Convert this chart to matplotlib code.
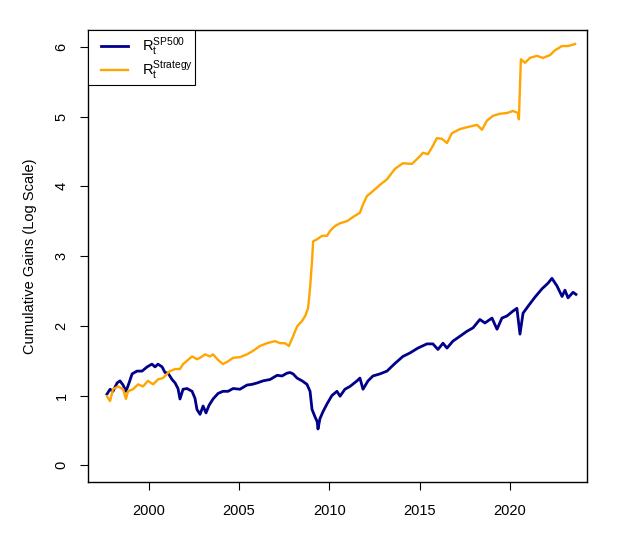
import numpy as np
import matplotlib
matplotlib.use("Agg")
import matplotlib.pyplot as plt
from matplotlib.patches import Rectangle

plt.rcParams['font.family'] = ['Liberation Sans', 'DejaVu Sans']
plt.rcParams['mathtext.fontset'] = 'custom'
plt.rcParams['mathtext.rm'] = 'Liberation Sans'
plt.rcParams['mathtext.it'] = 'Liberation Sans:italic'

# S&P 500 cumulative gains (log scale)
sp_years = [1997.69, 1997.86, 1998.02, 1998.25, 1998.41, 1998.58, 1998.74, 1998.91,
            1999.08, 1999.35, 1999.63, 1999.91, 2000.18, 2000.35, 2000.51, 2000.74,
            2000.90, 2001.07, 2001.29, 2001.46, 2001.62, 2001.73, 2001.90, 2002.12,
            2002.40, 2002.56, 2002.67, 2002.84, 2003.01, 2003.17, 2003.34, 2003.56,
            2003.84, 2004.11, 2004.39, 2004.67, 2005.05, 2005.44, 2005.72, 2006.00,
            2006.33, 2006.72, 2007.11, 2007.38, 2007.65, 2007.82, 2007.99, 2008.21,
            2008.49, 2008.76, 2008.93, 2009.04, 2009.21, 2009.32, 2009.37, 2009.48,
            2009.65, 2009.87, 2010.14, 2010.42, 2010.59, 2010.86, 2011.14, 2011.53,
            2011.69, 2011.86, 2012.14, 2012.41, 2012.80, 2013.19, 2013.63, 2014.07,
            2014.46, 2014.90, 2015.40, 2015.73, 2016.01, 2016.29, 2016.51, 2016.84,
            2017.23, 2017.61, 2017.95, 2018.33, 2018.61, 2019.00, 2019.28, 2019.55,
            2019.83, 2020.16, 2020.38, 2020.55, 2020.72, 2021.00, 2021.38, 2021.77,
            2022.10, 2022.32, 2022.60, 2022.88, 2023.04, 2023.21, 2023.49, 2023.65]
sp_gain = [1.02, 1.09, 1.06, 1.18, 1.21, 1.15, 1.06, 1.18,
           1.31, 1.35, 1.35, 1.41, 1.45, 1.41, 1.45, 1.41,
           1.33, 1.32, 1.23, 1.18, 1.10, 0.95, 1.09, 1.10,
           1.06, 0.96, 0.80, 0.73, 0.85, 0.75, 0.86, 0.95,
           1.03, 1.06, 1.06, 1.10, 1.09, 1.15, 1.16, 1.18,
           1.21, 1.23, 1.29, 1.28, 1.32, 1.33, 1.31, 1.25,
           1.21, 1.16, 1.06, 0.80, 0.69, 0.63, 0.52, 0.67,
           0.77, 0.88, 1.00, 1.06, 0.99, 1.09, 1.13, 1.21,
           1.25, 1.09, 1.21, 1.28, 1.31, 1.35, 1.46, 1.56,
           1.61, 1.68, 1.74, 1.74, 1.66, 1.75, 1.68, 1.78,
           1.85, 1.92, 1.97, 2.09, 2.04, 2.11, 1.95, 2.11,
           2.14, 2.21, 2.25, 1.88, 2.18, 2.28, 2.41, 2.53,
           2.61, 2.68, 2.57, 2.42, 2.51, 2.40, 2.48, 2.45]

# strategy cumulative gains (log scale)
st_years = [1997.69, 1997.86, 1998.02, 1998.30, 1998.58, 1998.74, 1998.85, 1999.13,
            1999.41, 1999.68, 1999.96, 2000.24, 2000.51, 2000.79, 2001.01, 2001.18,
            2001.46, 2001.73, 2001.90, 2002.17, 2002.40, 2002.67, 2002.84, 2003.12,
            2003.39, 2003.56, 2003.84, 2004.11, 2004.39, 2004.67, 2005.05, 2005.44,
            2005.77, 2006.16, 2006.55, 2006.99, 2007.27, 2007.54, 2007.76, 2007.99,
            2008.21, 2008.49, 2008.66, 2008.82, 2008.93, 2009.04, 2009.10, 2009.32,
            2009.60, 2009.87, 2010.04, 2010.31, 2010.59, 2010.98, 2011.31, 2011.69,
            2011.86, 2012.08, 2012.41, 2012.80, 2013.19, 2013.63, 2014.07, 2014.57,
            2015.01, 2015.18, 2015.46, 2015.73, 2015.95, 2016.23, 2016.51, 2016.78,
            2017.23, 2017.67, 2018.17, 2018.45, 2018.72, 2019.06, 2019.44, 2019.83,
            2020.16, 2020.44, 2020.49, 2020.60, 2020.83, 2021.10, 2021.49, 2021.82,
            2022.21, 2022.49, 2022.87, 2023.21, 2023.60]
st_gain = [0.99, 0.92, 1.09, 1.13, 1.09, 0.95, 1.06, 1.09,
           1.16, 1.13, 1.21, 1.16, 1.23, 1.25, 1.31, 1.35,
           1.38, 1.38, 1.45, 1.51, 1.56, 1.52, 1.54, 1.59,
           1.56, 1.59, 1.51, 1.45, 1.49, 1.54, 1.55, 1.59,
           1.64, 1.71, 1.75, 1.78, 1.75, 1.75, 1.71, 1.85,
           1.99, 2.07, 2.14, 2.25, 2.54, 2.93, 3.21, 3.24,
           3.29, 3.29, 3.36, 3.43, 3.47, 3.50, 3.56, 3.62,
           3.74, 3.86, 3.93, 4.02, 4.10, 4.25, 4.33, 4.32,
           4.43, 4.48, 4.46, 4.58, 4.69, 4.68, 4.62, 4.76,
           4.82, 4.85, 4.88, 4.81, 4.94, 5.01, 5.04, 5.05,
           5.08, 5.05, 4.96, 5.82, 5.77, 5.84, 5.87, 5.84,
           5.88, 5.95, 6.01, 6.01, 6.04]

fig = plt.figure(figsize=(6.23, 5.38), dpi=100)
ax = fig.add_axes([0.1413, 0.1041, 0.8009, 0.8401])

ax.plot(sp_years, sp_gain, color='#00008B', lw=2.0,
        label=r'$\mathrm{R}_{\mathrm{t}}^{\mathrm{SP500}}$')
ax.plot(st_years, st_gain, color='#FFA500', lw=1.7,
        label=r'$\mathrm{R}_{\mathrm{t}}^{\mathrm{Strategy}}$')

ax.set_xlim(1996.64, 2024.26)
ax.set_ylim(-0.24, 6.24)
ax.set_xticks([2000, 2005, 2010, 2015, 2020])
ax.set_yticks([0, 1, 2, 3, 4, 5, 6])
ax.tick_params(direction='out', length=6, width=0.8, labelsize=10.5)
ax.tick_params(axis='x', pad=10)
ax.tick_params(axis='y', pad=8)
for lab in ax.get_yticklabels():
    lab.set_rotation(90)
    lab.set_va('center')
for sp in ax.spines.values():
    sp.set_linewidth(1.0)

ax.set_ylabel('Cumulative Gains (Log Scale)', fontsize=10.5, labelpad=13)

# legend box drawn separately (R-style topleft legend)
box = Rectangle((0, 1 - 0.1217), 0.2144, 0.1217, transform=ax.transAxes,
                facecolor='white', edgecolor='black', lw=0.8, zorder=4)
ax.add_patch(box)
leg = ax.legend(loc='upper left', bbox_to_anchor=(0.026, 0.987), frameon=False,
                borderaxespad=0, borderpad=0, fontsize=10.5,
                handlelength=1.85, handletextpad=0.95, labelspacing=0.0)
leg.set_zorder(5)

fig.savefig('out.png', dpi=100)
